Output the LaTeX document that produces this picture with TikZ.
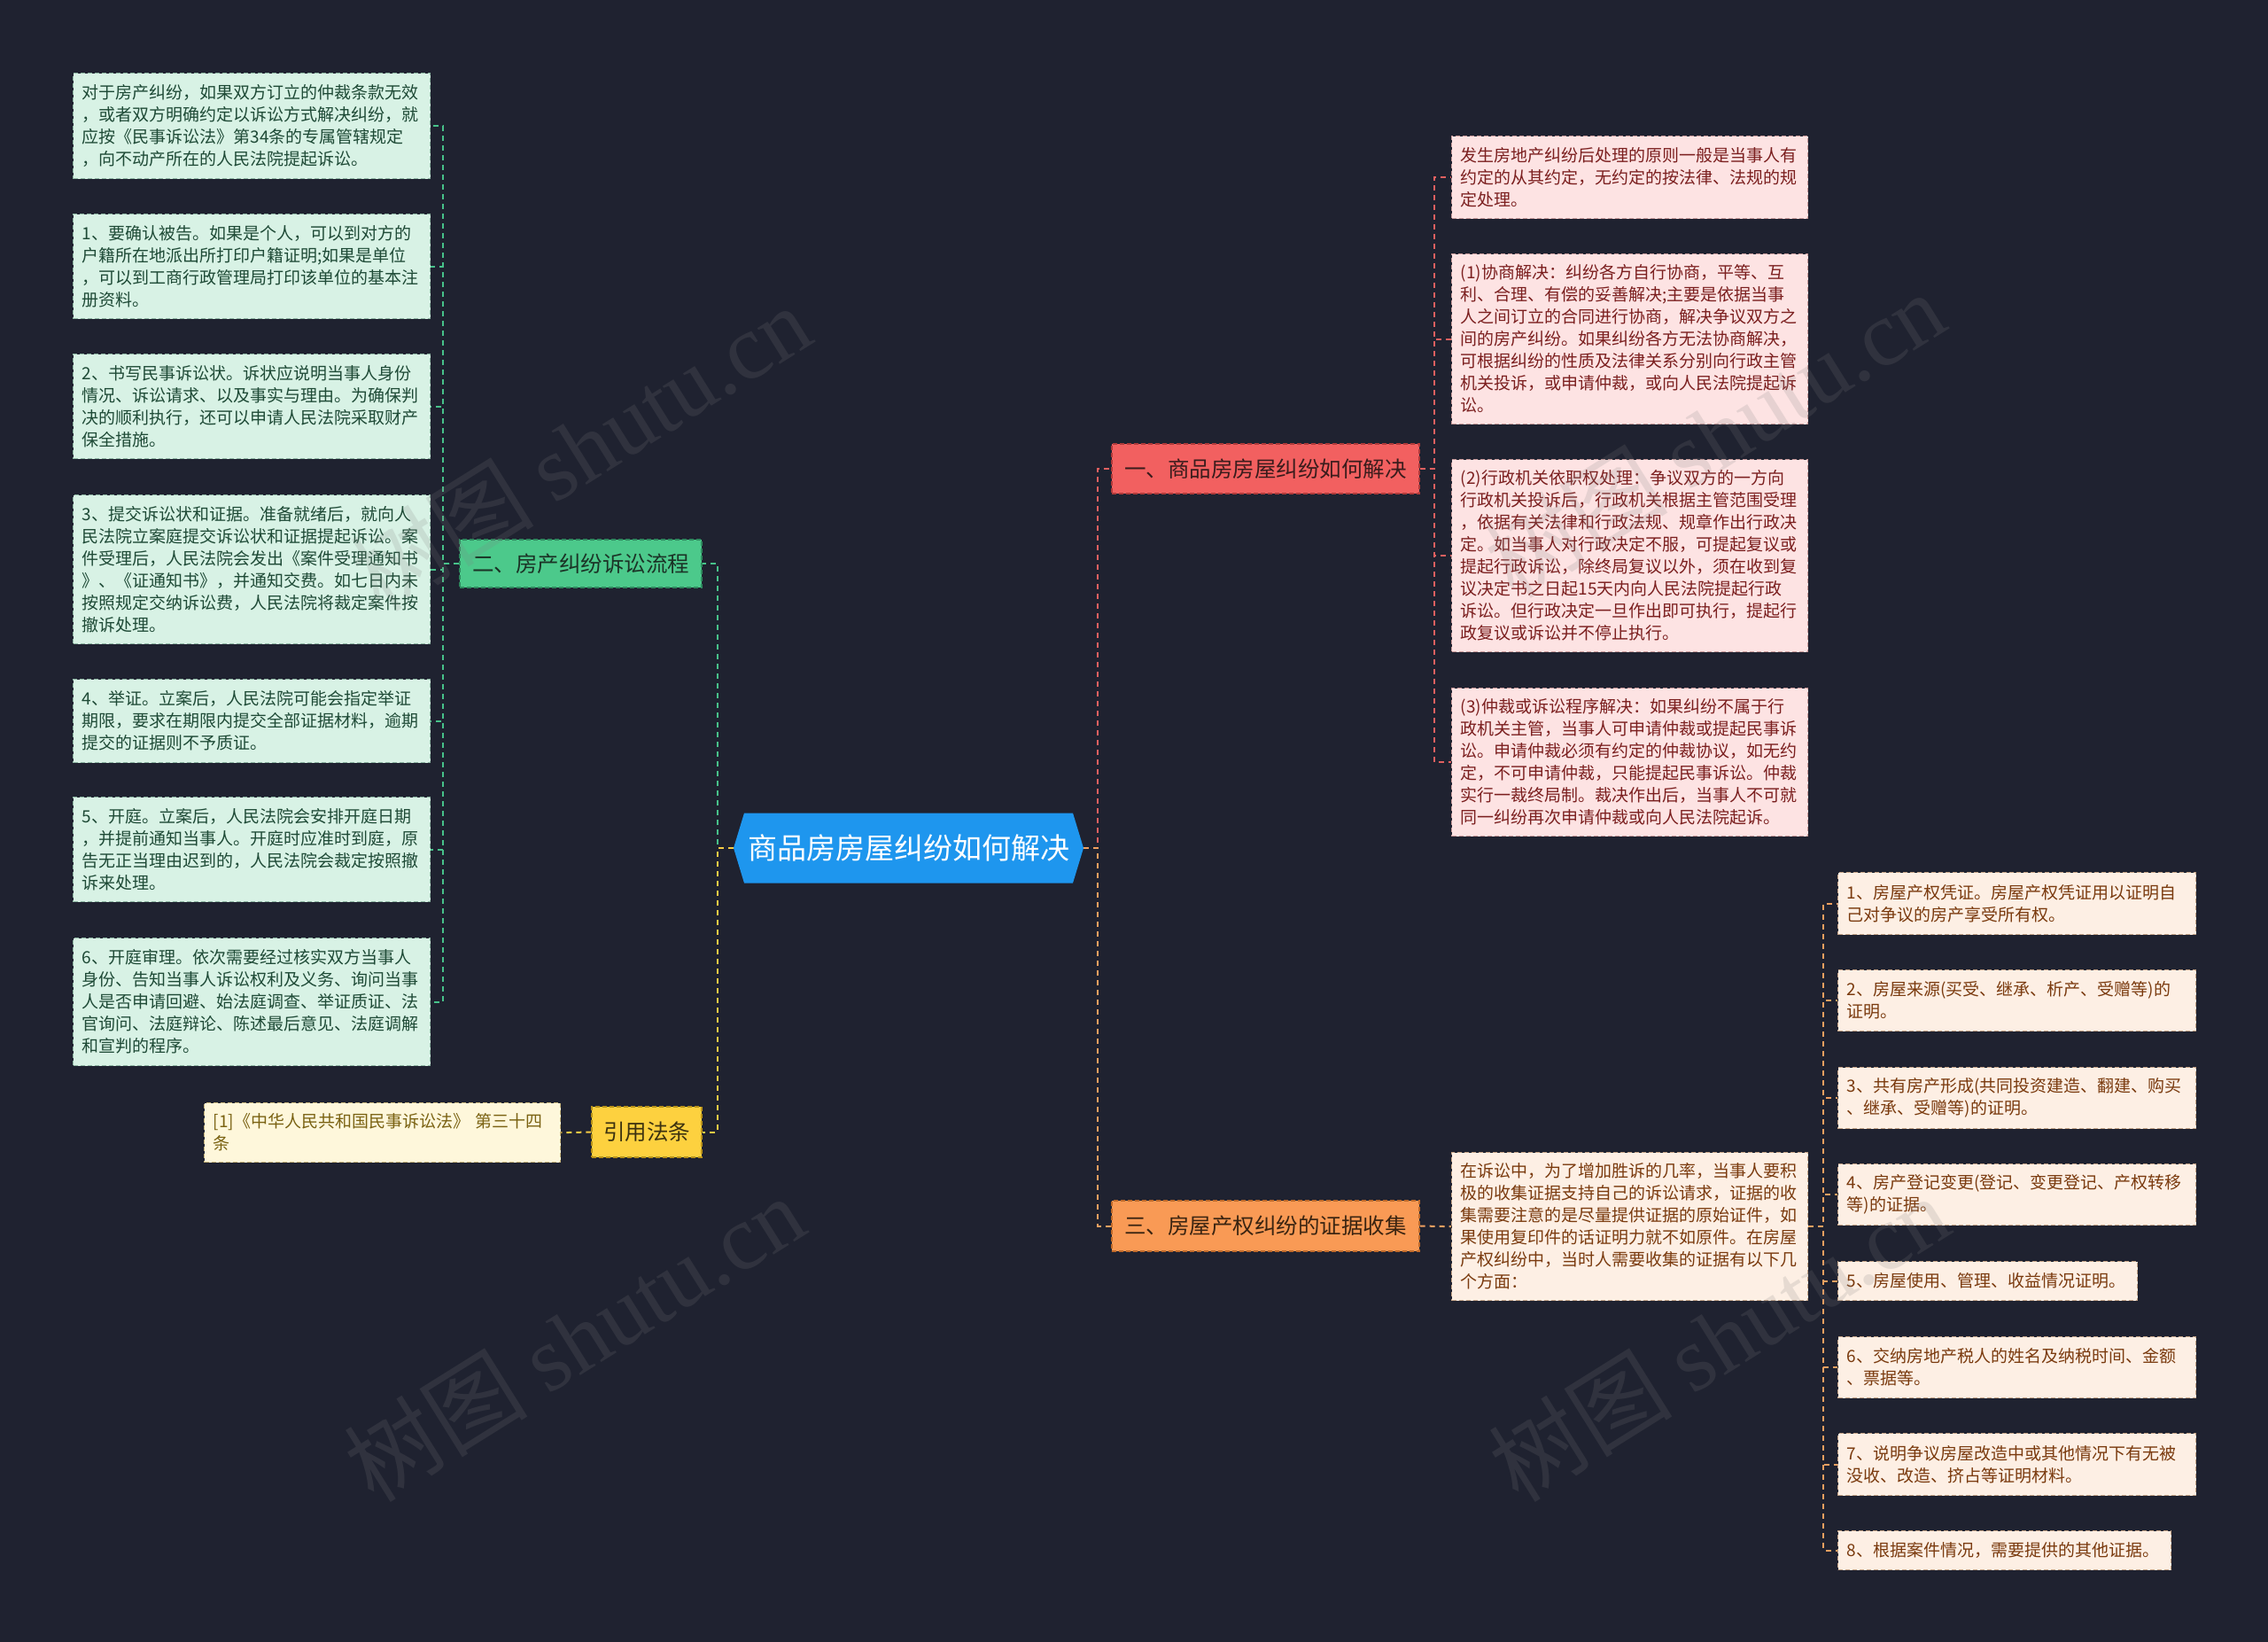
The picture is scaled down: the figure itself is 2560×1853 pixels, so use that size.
\documentclass[tikz,border=0pt]{standalone}
\usepackage{fontspec}
\setmainfont{Noto Sans CJK SC}
\newfontfamily\wmserif{Liberation Serif}
\usetikzlibrary{calc}
\definecolor{bg}{HTML}{1F2230}
\definecolor{cfill}{HTML}{1E96EE}
\definecolor{gbr}{HTML}{4CC98B}
\definecolor{gbrtext}{HTML}{1B3326}
\definecolor{gbrline}{HTML}{2E8A5E}
\definecolor{gleaf}{HTML}{D8F2E5}
\definecolor{gleaftext}{HTML}{1E4A36}
\definecolor{gleafline}{HTML}{8DB5A2}
\definecolor{gconncol}{HTML}{47C28A}
\definecolor{rbr}{HTML}{F26060}
\definecolor{rbrtext}{HTML}{3A1C1C}
\definecolor{rbrline}{HTML}{B03A3A}
\definecolor{rleaf}{HTML}{FDE3E3}
\definecolor{rleaftext}{HTML}{7B1F1F}
\definecolor{rleafline}{HTML}{C79A9A}
\definecolor{rconncol}{HTML}{E06060}
\definecolor{obr}{HTML}{F99A55}
\definecolor{obrtext}{HTML}{3A2411}
\definecolor{obrline}{HTML}{C06A2A}
\definecolor{oleaf}{HTML}{FDEFE4}
\definecolor{oleaftext}{HTML}{7A3A0E}
\definecolor{oleafline}{HTML}{C4A488}
\definecolor{oconncol}{HTML}{F0A060}
\definecolor{ybr}{HTML}{FDD13F}
\definecolor{ybrtext}{HTML}{3C3210}
\definecolor{ybrline}{HTML}{B8921A}
\definecolor{yleaf}{HTML}{FEF7DB}
\definecolor{yleaftext}{HTML}{7A6212}
\definecolor{yleafline}{HTML}{C4B27A}
\definecolor{yconncol}{HTML}{F5CB45}
\tikzset{
  leafbox/.style={draw, dash pattern=on 5pt off 3pt, line width=1.3pt, anchor=north west,
    inner xsep=10pt, inner ysep=0pt, align=left, font=\fontsize{19}{25}\selectfont},
  gleafbox/.style={leafbox, fill=gleaf, draw=gleafline, text=gleaftext},
  rleafbox/.style={leafbox, fill=rleaf, draw=rleafline, text=rleaftext},
  oleafbox/.style={leafbox, fill=oleaf, draw=oleafline, text=oleaftext},
  yleafbox/.style={leafbox, fill=yleaf, draw=yleafline, text=yleaftext},
  branchbox/.style={draw, dash pattern=on 5pt off 3pt, line width=1.3pt, inner sep=0pt,
    font=\fontsize{24.5}{30}\selectfont},
  conn/.style={line width=2pt, dash pattern=on 6pt off 5pt},
  gconn/.style={conn, draw=gconncol},
  rconn/.style={conn, draw=rconncol},
  oconn/.style={conn, draw=oconncol},
  yconn/.style={conn, draw=yconncol},
  rootbox/.style={minimum width=395pt, minimum height=79pt, inner sep=0pt, text=white,
    fill=bg, font=\fontsize{33}{40}\selectfont,
    path picture={\fill[cfill]
      ($(path picture bounding box.north west)+(12pt,0pt)$) --
      ($(path picture bounding box.north east)+(-12pt,0pt)$) --
      (path picture bounding box.east) --
      ($(path picture bounding box.south east)+(-12pt,0pt)$) --
      ($(path picture bounding box.south west)+(12pt,0pt)$) --
      (path picture bounding box.west) -- cycle;}},
  wmark/.style={text=gray, opacity=0.18, rotate=32, font=\fontsize{104}{110}\selectfont}
}
\begin{document}
\begin{tikzpicture}[x=1pt, y=-1pt]
\fill[bg] (0,0) rectangle (2560,1853);
\useasboundingbox (0,0) rectangle (2560,1853);

% root
\node[rootbox] (C) at (1025.5,957) {商品房房屋纠纷如何解决};

% branches
\node[branchbox, fill=gbr, draw=gbrline, text=gbrtext, minimum width=273pt, minimum height=54pt] (G) at (655.5,636) {二、房产纠纷诉讼流程};
\node[branchbox, fill=ybr, draw=ybrline, text=ybrtext, minimum width=124pt, minimum height=57pt] (Y) at (730,1277.5) {引用法条};
\node[branchbox, fill=rbr, draw=rbrline, text=rbrtext, minimum width=347pt, minimum height=56pt] (R) at (1428.5,529) {一、商品房房屋纠纷如何解决};
\node[branchbox, fill=obr, draw=obrline, text=obrtext, minimum width=347pt, minimum height=57pt] (O) at (1428.5,1383.5) {三、房屋产权纠纷的证据收集};

% green leaves
\node[gleafbox, text width=383pt, minimum height=119pt] (L0) at (82,82) {对于房产纠纷，如果双方订立的仲裁条款无效\\，或者双方明确约定以诉讼方式解决纠纷，就\\应按《民事诉讼法》第34条的专属管辖规定\\，向不动产所在的人民法院提起诉讼。};
\node[gleafbox, text width=383pt, minimum height=118pt] (L1) at (82,241) {1、要确认被告。如果是个人，可以到对方的\\户籍所在地派出所打印户籍证明;如果是单位\\，可以到工商行政管理局打印该单位的基本注\\册资料。};
\node[gleafbox, text width=383pt, minimum height=118pt] (L2) at (82,399) {2、书写民事诉讼状。诉状应说明当事人身份\\情况、诉讼请求、以及事实与理由。为确保判\\决的顺利执行，还可以申请人民法院采取财产\\保全措施。};
\node[gleafbox, text width=383pt, minimum height=168pt] (L3) at (82,558) {3、提交诉讼状和证据。准备就绪后，就向人\\民法院立案庭提交诉讼状和证据提起诉讼。案\\件受理后，人民法院会发出《案件受理通知书\\》、《证通知书》，并通知交费。如七日内未\\按照规定交纳诉讼费，人民法院将裁定案件按\\撤诉处理。};
\node[gleafbox, text width=383pt, minimum height=94pt] (L4) at (82,766) {4、举证。立案后，人民法院可能会指定举证\\期限，要求在期限内提交全部证据材料，逾期\\提交的证据则不予质证。};
\node[gleafbox, text width=383pt, minimum height=118pt] (L5) at (82,899) {5、开庭。立案后，人民法院会安排开庭日期\\，并提前通知当事人。开庭时应准时到庭，原\\告无正当理由迟到的，人民法院会裁定按照撤\\诉来处理。};
\node[gleafbox, text width=383pt, minimum height=144pt] (L6) at (82,1058) {6、开庭审理。依次需要经过核实双方当事人\\身份、告知当事人诉讼权利及义务、询问当事\\人是否申请回避、始法庭调查、举证质证、法\\官询问、法庭辩论、陈述最后意见、法庭调解\\和宣判的程序。};

% yellow leaf
\node[yleafbox, text width=382pt, minimum height=67pt] (Y0) at (230,1244) {[1]《中华人民共和国民事诉讼法》 第三十四\\条};

% red leaves
\node[rleafbox, text width=382pt, minimum height=93pt] (R0) at (1638,153) {发生房地产纠纷后处理的原则一般是当事人有\\约定的从其约定，无约定的按法律、法规的规\\定处理。};
\node[rleafbox, text width=382pt, minimum height=192pt] (R1) at (1638,286) {(1)协商解决：纠纷各方自行协商，平等、互\\利、合理、有偿的妥善解决;主要是依据当事\\人之间订立的合同进行协商，解决争议双方之\\间的房产纠纷。如果纠纷各方无法协商解决，\\可根据纠纷的性质及法律关系分别向行政主管\\机关投诉，或申请仲裁，或向人民法院提起诉\\讼。};
\node[rleafbox, text width=382pt, minimum height=217pt] (R2) at (1638,518) {(2)行政机关依职权处理：争议双方的一方向\\行政机关投诉后，行政机关根据主管范围受理\\，依据有关法律和行政法规、规章作出行政决\\定。如当事人对行政决定不服，可提起复议或\\提起行政诉讼，除终局复议以外，须在收到复\\议决定书之日起15天内向人民法院提起行政\\诉讼。但行政决定一旦作出即可执行，提起行\\政复议或诉讼并不停止执行。};
\node[rleafbox, text width=382pt, minimum height=167pt] (R3) at (1638,776) {(3)仲裁或诉讼程序解决：如果纠纷不属于行\\政机关主管，当事人可申请仲裁或提起民事诉\\讼。申请仲裁必须有约定的仲裁协议，如无约\\定，不可申请仲裁，只能提起民事诉讼。仲裁\\实行一裁终局制。裁决作出后，当事人不可就\\同一纠纷再次申请仲裁或向人民法院起诉。};

% orange leaves
\node[oleafbox, text width=382pt, minimum height=167pt] (O0) at (1638,1300) {在诉讼中，为了增加胜诉的几率，当事人要积\\极的收集证据支持自己的诉讼请求，证据的收\\集需要注意的是尽量提供证据的原始证件，如\\果使用复印件的话证明力就不如原件。在房屋\\产权纠纷中，当时人需要收集的证据有以下几\\个方面：};
\node[oleafbox, text width=384pt, minimum height=70pt] (S1) at (2074,984) {1、房屋产权凭证。房屋产权凭证用以证明自\\己对争议的房产享受所有权。};
\node[oleafbox, text width=384pt, minimum height=69pt] (S2) at (2074,1094) {2、房屋来源(买受、继承、析产、受赠等)的\\证明。};
\node[oleafbox, text width=384pt, minimum height=69pt] (S3) at (2074,1204) {3、共有房产形成(共同投资建造、翻建、购买\\、继承、受赠等)的证明。};
\node[oleafbox, text width=384pt, minimum height=69pt] (S4) at (2074,1313) {4、房产登记变更(登记、变更登记、产权转移\\等)的证据。};
\node[oleafbox, text width=318pt, minimum height=44pt] (S5) at (2074,1423) {5、房屋使用、管理、收益情况证明。};
\node[oleafbox, text width=384pt, minimum height=69pt] (S6) at (2074,1508) {6、交纳房地产税人的姓名及纳税时间、金额\\、票据等。};
\node[oleafbox, text width=384pt, minimum height=70pt] (S7) at (2074,1617) {7、说明争议房屋改造中或其他情况下有无被\\没收、改造、挤占等证明材料。};
\node[oleafbox, text width=356pt, minimum height=44pt] (S8) at (2074,1727) {8、根据案件情况，需要提供的其他证据。};

% connectors root -> branches
\draw[gconn] (C.west) -- ++(-18,0) |- (G.east);
\draw[yconn] (C.west) -- ++(-18,0) |- (Y.east);
\draw[rconn] (C.east) -- ++(16,0) |- (R.west);
\draw[oconn] (C.east) -- ++(16,0) |- (O.west);

% green branch -> leaves
\foreach \n in {L0,L1,L2,L3,L4,L5,L6} {
  \draw[gconn] (G.west) -- ++(-18,0) |- (\n.east);
}
% yellow
\draw[yconn] (Y.west) -- (Y0.east);
% red
\foreach \n in {R0,R1,R2,R3} {
  \draw[rconn] (R.east) -- ++(16,0) |- (\n.west);
}
% orange
\draw[oconn] (O.east) -- (O0.west);
\foreach \n in {S1,S2,S3,S4,S5,S6,S7,S8} {
  \draw[oconn] (O0.east) -- ++(17,0) |- (\n.west);
}

% watermarks
\node[wmark] (W1) at (655,505) {树图 {\wmserif shutu.cn}};
\node[wmark] (W2) at (1935,490) {树图 {\wmserif shutu.cn}};
\node[wmark] (W3) at (648,1510) {树图 {\wmserif shutu.cn}};
\node[wmark] (W4) at (1940,1510) {树图 {\wmserif shutu.cn}};
\end{tikzpicture}
\end{document}
